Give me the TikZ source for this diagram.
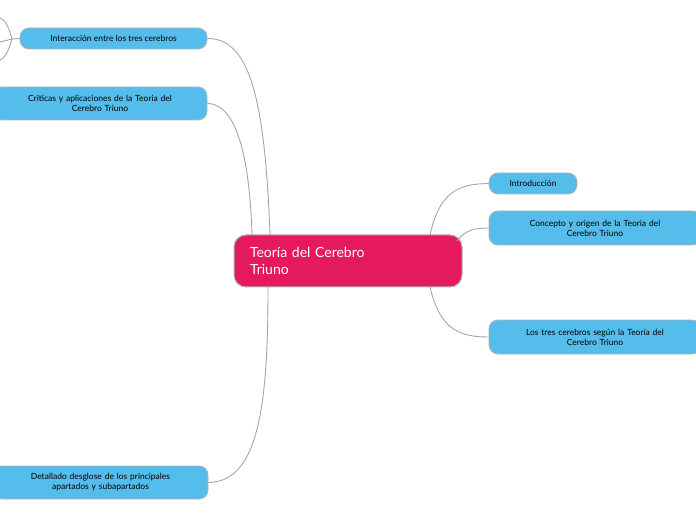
\documentclass[tikz,border=0pt]{standalone}
\usepackage{fontspec}
\setmainfont{Lato}
\usepackage{tikz}
\definecolor{topicblue}{HTML}{55BDEB}
\definecolor{centralpink}{HTML}{E5195F}
\tikzset{
  topic/.style={draw=gray!60, line width=0.8pt, fill=topicblue, rounded corners=9pt,
    font=\fontsize{8.5}{10}\selectfont, align=center, inner sep=2pt},
  central/.style={draw=gray!60, line width=1pt, fill=centralpink, rounded corners=12pt,
    text=white, font=\fontsize{14}{17}\selectfont, align=left},
  link/.style={draw=gray!70, line width=0.9pt}
}
\begin{document}
\begin{tikzpicture}[x=1pt,y=1pt]
  \useasboundingbox (0,0) rectangle (696,520);
  % central topic
  \node[central, minimum width=228pt, minimum height=52pt, text width=196pt] (root) at (348,259) {Teoría del Cerebro\\Triuno};

  % left side
  \node[topic, minimum width=187pt, minimum height=21pt] (inter) at (113.5,481.5) {Interacción entre los tres cerebros};
  \node[topic, minimum width=214pt, minimum height=33pt, text width=205pt] (crit) at (100,416.5) {Criticas y aplicaciones de la Teoria del\\Cerebro Triuno};
  \node[topic, minimum width=215pt, minimum height=33pt, text width=205pt] (detal) at (100.5,37.5) {Detallado desglose de los principales\\apartados y subapartados};

  % right side
  \node[topic, minimum width=88pt, minimum height=21pt] (intro) at (533,336.5) {Introducción};
  \node[topic, minimum width=212pt, minimum height=34pt, text width=205pt] (conc) at (595,292) {Concepto y origen de la Teoria del\\Cerebro Triuno};
  \node[topic, minimum width=212pt, minimum height=34pt, text width=205pt] (tres) at (595,183) {Los tres cerebros según la Teoría del\\Cerebro Triuno};

  % connectors
  \draw[link] (inter.east) .. controls (250,482) and (265,420) .. (270,285);
  \draw[link] (crit.east) .. controls (240,416) and (250,350) .. (252,285);
  \draw[link] (detal.east) .. controls (260,38) and (268,120) .. (268,233);
  \draw[link] (430,285) .. controls (440,330) and (460,336) .. (intro.west);
  \draw[link] (457,279) .. controls (465,290) and (475,292) .. (conc.west);
  \draw[link] (430,233) .. controls (440,190) and (460,183) .. (tres.west);

  % branches leaving to the left
  \coordinate (l1) at (0,502);
  \coordinate (l2) at (0,478);
  \coordinate (l3) at (0,460);
  \draw[link] (inter.west) -- (12,481) .. controls (8,495) and (5,500) .. (l1);
  \draw[link] (12,481) -- (l2);
  \draw[link] (12,481) .. controls (8,468) and (5,462) .. (l3);
\end{tikzpicture}
\end{document}
